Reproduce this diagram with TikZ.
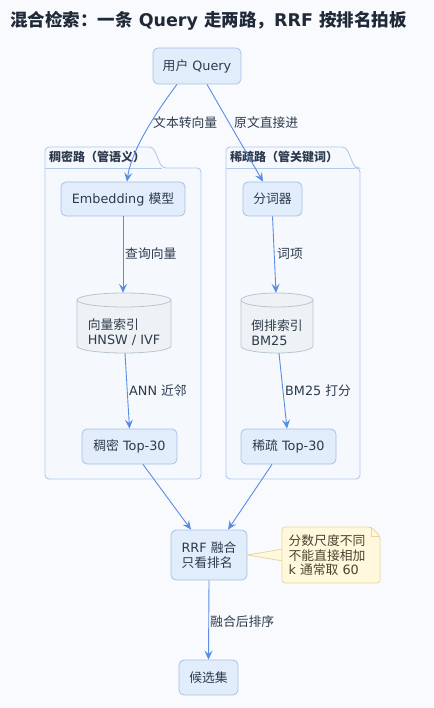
\documentclass[tikz,border=0pt]{standalone}
\usepackage{fontspec}
\setmainfont{DejaVu Sans}
\newfontfamily\cjk{Noto Sans CJK SC}
\usetikzlibrary{arrows.meta,calc}

\definecolor{bgcol}{HTML}{F9FAFD}
\definecolor{pkgfill}{HTML}{F5F9FE}
\definecolor{pkgline}{HTML}{B2CAEA}
\definecolor{boxfill}{HTML}{E2EDFB}
\definecolor{boxline}{HTML}{A6C1E6}
\definecolor{cylfill}{HTML}{EFF2F4}
\definecolor{cylline}{HTML}{B8C6D3}
\definecolor{arrowcol}{HTML}{5A8CE4}
\definecolor{txtcol}{HTML}{2D3A4D}
\definecolor{titlecol}{HTML}{1F2937}
\definecolor{notefill}{HTML}{FFF8DD}
\definecolor{noteline}{HTML}{E6D89C}
\definecolor{notetxt}{HTML}{4B4331}

\newcommand{\zh}[1]{{\cjk #1}}

\tikzset{
  box/.style    ={draw=boxline, fill=boxfill, rounded corners=5pt, line width=0.8pt,
                  text=txtcol, font=\fontsize{12.8}{15}\selectfont, inner sep=0pt},
  cylframe/.style={inner sep=0pt},
  cyltext/.style={text=txtcol, font=\fontsize{12.8}{15}\selectfont, align=left, inner sep=0pt},
  flow/.style   ={draw=arrowcol, line width=0.9pt,
                  -{Stealth[length=9pt,width=8pt,inset=3.5pt]}},
  lbl/.style    ={anchor=west, text=txtcol, font=\fontsize{12.8}{15}\selectfont, inner sep=0pt},
  pkg/.style    ={draw=pkgline, fill=pkgfill, line width=0.9pt, rounded corners=4pt},
  pkgtitle/.style={anchor=west, text=txtcol, font=\bfseries\fontsize{12}{14}\selectfont, inner sep=0pt},
}

\begin{document}
\begin{tikzpicture}[x=1pt, y=-1pt]

% Canvas (one unit = one pixel of the reference, y grows downwards)
\useasboundingbox[fill=bgcol] (0,0) rectangle (433,708);

% Title
\node[anchor=west, text=titlecol, inner sep=0pt,
      font=\bfseries\fontsize{17.5}{20}\selectfont] (title) at (10,21)
      {\zh{混合检索：一条} Query \zh{走两路，}RRF \zh{按排名拍板}};

% The two lanes (packages with a tab)
\filldraw[pkg] (45,168) -- (45,147) -- (153,147) -- (162,168)
               -- (201,168) -- (201,479) -- (45,479) -- cycle;
\draw[pkgline, line width=0.9pt] (45,168) -- (162,168);
\node[pkgtitle] (dlane) at (49,157) {\zh{稠密路（管语义）}};

\filldraw[pkg] (226,168) -- (226,147) -- (346,147) -- (355,168)
               -- (360,168) -- (360,479) -- (226,479) -- cycle;
\draw[pkgline, line width=0.9pt] (226,168) -- (355,168);
\node[pkgtitle] (slane) at (230,157) {\zh{稀疏路（管关键词）}};

% Boxes
\node[box, minimum width=88pt, minimum height=36pt] (q)    at (197,66)    {\zh{用户} Query};
\node[box, minimum width=124pt,minimum height=34pt] (emb)  at (123,199)   {Embedding \zh{模型}};
\node[box, minimum width=59pt, minimum height=34pt] (tok)  at (272.5,199) {\zh{分词器}};
\node[box, minimum width=95pt, minimum height=35pt] (dtop) at (129.5,446.5) {\zh{稠密} Top-30};
\node[box, minimum width=95pt, minimum height=35pt] (stop) at (288.5,446.5) {\zh{稀疏} Top-30};
\node[box, minimum width=76pt, minimum height=50pt, align=left] (rrf) at (209,555)
      {RRF \zh{融合}\\\zh{只看排名}};
\node[box, minimum width=59pt, minimum height=35pt] (cand) at (208.5,677.5) {\zh{候选集}};

% The two indexes (cylinders): frame nodes, then the drawn shapes
\node[cylframe, minimum width=94pt, minimum height=60pt] (vidx) at (124,323) {};
\node[cylframe, minimum width=72pt, minimum height=60pt] (bidx) at (277,323) {};

\filldraw[draw=cylline, fill=cylfill, line width=0.8pt]
  (77,300) -- (77,346) arc[start angle=180, end angle=0, x radius=47, y radius=7]
  -- (171,300) arc[start angle=0, end angle=-180, x radius=47, y radius=7] -- cycle;
\draw[cylline, line width=0.8pt]
  (77,300) arc[start angle=180, end angle=0, x radius=47, y radius=7];

\filldraw[draw=cylline, fill=cylfill, line width=0.8pt]
  (241,300) -- (241,346) arc[start angle=180, end angle=0, x radius=36, y radius=7]
  -- (313,300) arc[start angle=0, end angle=-180, x radius=36, y radius=7] -- cycle;
\draw[cylline, line width=0.8pt]
  (241,300) arc[start angle=180, end angle=0, x radius=36, y radius=7];

\node[cyltext] (vidxl) at (124,332.5) {\zh{向量索引}\\HNSW / IVF};
\node[cyltext] (bidxl) at (277,332.5) {\zh{倒排索引}\\BM25};

% Note on the fusion step (wedge first, the note covers its base)
\filldraw[draw=noteline, fill=notefill, line width=0.8pt]
  (rrf.east) -- (283,549) -- (283,561) -- cycle;
\filldraw[draw=noteline, fill=notefill, line width=0.8pt, rounded corners=3pt]
  (282,527) -- (371,527) -- (380,536) -- (380,583) -- (282,583) -- cycle;
\draw[noteline, line width=0.8pt] (371,527) -- (371,536) -- (380,536);
\node[text=notetxt, font=\fontsize{12.8}{14.5}\selectfont, align=left, inner sep=0pt]
  (note) at (327,555.5) {\zh{分数尺度不同}\\\zh{不能直接相加}\\k \zh{通常取} 60};

% Connectors
\draw[flow] ([xshift=-20pt]q.south) .. controls +(-15,20) and +(5,-35) .. ([xshift=4pt]emb.north);
\draw[flow] ([xshift=10pt]q.south)  -- ([xshift=-9.5pt]tok.north);
\draw[flow] (emb.south)             -- ([xshift=-1pt]vidx.north);
\draw[flow] (tok.south)             -- ([xshift=-1pt]bidx.north);
\draw[flow] ([xshift=1pt]vidx.south) -- (dtop.north);
\draw[flow] ([xshift=2pt]bidx.south) -- ([xshift=-1.5pt]stop.north);
\draw[flow] ([xshift=13.5pt]dtop.south) -- ([xshift=-18pt]rrf.north);
\draw[flow] ([xshift=-16.5pt]stop.south) -- ([xshift=19pt]rrf.north);
\draw[flow] (rrf.south)             -- (cand.north);

% Connector labels
\node[lbl] (l1) at (153,123) {\zh{文本转向量}};
\node[lbl] (l2) at (234,123) {\zh{原文直接进}};
\node[lbl] (l3) at (125,254) {\zh{查询向量}};
\node[lbl] (l4) at (277,254) {\zh{词项}};
\node[lbl] (l5) at (129,391) {ANN \zh{近邻}};
\node[lbl] (l6) at (285,391) {BM25 \zh{打分}};
\node[lbl] (l7) at (210,622) {\zh{融合后排序}};

\end{tikzpicture}
\end{document}
